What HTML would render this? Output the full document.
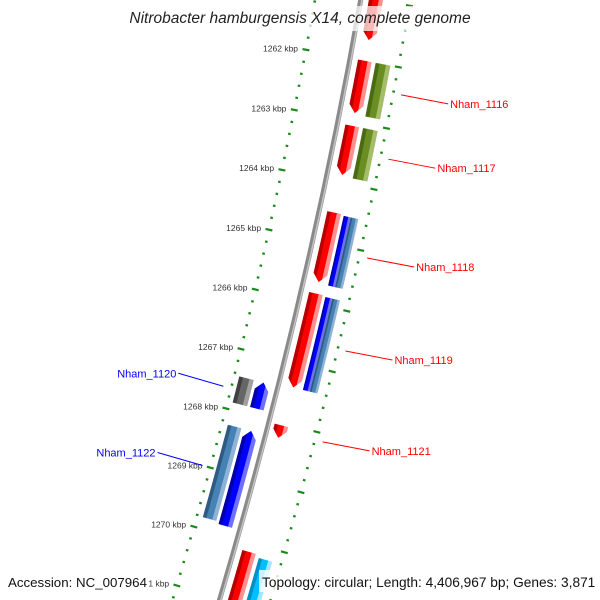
<!DOCTYPE html>
<html><head><meta charset="utf-8"><style>
html,body{margin:0;padding:0;background:#fff;width:600px;height:600px;overflow:hidden;}
svg{display:block;font-family:"Liberation Sans","DejaVu Sans",sans-serif;}
</style></head><body>
<svg id="chart" width="600" height="600" viewBox="0 0 600 600" xmlns="http://www.w3.org/2000/svg">
<defs id="defs"></defs>
<g id="scales"></g>
<path id="backbone" fill="none"/>
<g id="genes"></g>
<g id="labels"></g>
<rect x="122" y="6" width="356" height="25" fill="#fff" opacity="0.72"/>
<text x="300" y="23" text-anchor="middle" font-size="15.5" font-style="italic" fill="#222">Nitrobacter hamburgensis X14, complete genome</text>
<rect x="5" y="570" width="143" height="22" fill="#fff"/>
<text x="8" y="587" font-size="13.3" fill="#111">Accession: NC_007964</text>
<rect x="259" y="570" width="336" height="22" fill="#fff" opacity="0.8"/>
<text x="262" y="587" font-size="13.7" fill="#111">Topology: circular; Length: 4,406,967 bp; Genes: 3,871</text>
</svg>
<script>
// ---- data ----
const tickKbp = [1261,1262,1263,1264,1265,1266,1267,1268,1269,1270,1271,1272];
const geneStart = [1260.9,1262.0,1262.0,1263.07,1263.07,1264.5,1264.52,1264.52,1265.84,1265.86,1265.86,1268.04,1267.44,1267.44,1268.25,1268.25,1270.15,1270.2];
const geneEnd   = [1261.66,1262.86,1262.88,1263.88,1263.9,1265.65,1265.67,1265.67,1267.4,1267.4,1267.4,1268.25,1267.88,1267.88,1269.81,1269.85,1272.5,1272.5];
const geneInner = [8,8,26,8,26,8,25,32,8,25,32,6,-40,-22,-39,-22,8,26];
const geneOuter = [22,22,41,22,41,22,32,40,22,32,40,20,-25,-8,-25,-8,22,40];
const geneArrow = ["end","end","none","end","none","end","none","none","end","none","none","end","none","start","none","start","none","none"];
const geneColor = ["red","red","green","red","green","red","blue","steel","red","blue","steel","red","gray","blue","steel","blue","red","cyan"];
const labelNames = ["Nham_1116","Nham_1117","Nham_1118","Nham_1119","Nham_1121","Nham_1120","Nham_1122"];
const labelKbp   = [1262.43,1263.48,1265.1,1266.63,1268.13,1267.66,1269.0];
const labelSide  = ["right","right","right","right","right","left","left"];

// ---- geometry ----
const CX=-5026, CY=-951, R=5470, A0=10.63, DA=0.647;
function P(k,off){const a=(A0+DA*(k-1262))*Math.PI/180, r=R+off;return [CX+r*Math.cos(a), CY+r*Math.sin(a)];}
const NS="http://www.w3.org/2000/svg";
function mk(t,attrs,parent){const e=document.createElementNS(NS,t);for(const a in attrs)e.setAttribute(a,attrs[a]);parent.appendChild(e);return e;}

// backbone
(function(){
 const b=document.getElementById('backbone');
 const s=P(1260.2,0), e=P(1272.6,0);
 const d=`M${s[0]},${s[1]} A${R},${R} 0 0 1 ${e[0]},${e[1]}`;
 b.setAttribute('d',d);b.setAttribute('stroke','#8a8a8a');b.setAttribute('stroke-width','5');
 const hl=mk('path',{d:d,fill:'none',stroke:'#c4c4c4','stroke-width':'1.5',transform:'translate(1.2,0.3)'},document.getElementById('chart'));
 
 
 document.getElementById('chart').insertBefore(hl,document.getElementById('genes'));
})();

// scales
const sg=document.getElementById('scales');
function radialSeg(k,off,len,w,col){const p1=P(k,off-len/2),p2=P(k,off+len/2);
 return mk('line',{x1:p1[0],y1:p1[1],x2:p2[0],y2:p2[1],stroke:col,'stroke-width':w},sg);}
for(let i=0;i<=62;i++){const k=1260.4+i*0.2; if(Math.abs(k-Math.round(k))<0.01) continue;
 for(const off of [-45,49]){const d=radialSeg(k,off,2.6,2.2,'#1a8a1a');
  
  }}
tickKbp.forEach(k=>{
 for(const off of [-45,49]){const t=radialSeg(k,off,7,2.2,'#1a8a1a');
  
  }
 const p=P(k,-53);
 const tx=mk('text',{x:p[0],y:p[1]+3,'text-anchor':'end','font-size':'8.5',fill:'#333'},sg);
 
 
 tx.textContent=k+' kbp';
});

// genes
const pal={red:['#b80000','#ff0000','#ff9090'],green:['#4a6b14','#6b8e23','#a3bd6a'],blue:['#0000a8','#0000ff','#7070ff'],
 steel:['#2f5a82','#4682b4','#8fb3d6'],gray:['#404040','#666666','#a0a0a0'],cyan:['#0090c8','#00bfff','#a0e6ff']};
const gg=document.getElementById('genes'), defs=document.getElementById('defs');
geneStart.forEach((s,i)=>{
 const e=geneEnd[i], r1=geneInner[i], r2=geneOuter[i], rc=(r1+r2)/2, head=Math.min(0.13,(e-s)*0.6);
 const N=12; let pts=[];
 const arc=(k1,k2,off)=>{const a=[];for(let j=0;j<=N;j++)a.push(P(k1+(k2-k1)*j/N,off));return a;};
 let bs=s, be=e;
 if(geneArrow[i]==='end') be=e-head; if(geneArrow[i]==='start') bs=s+head;
 pts=pts.concat(arc(bs,be,r2));
 if(geneArrow[i]==='end') pts.push(P(e,rc));
 pts=pts.concat(arc(be,bs,r1));
 if(geneArrow[i]==='start') pts.push(P(s,rc));
 const poly=pts.map(p=>p[0].toFixed(2)+','+p[1].toFixed(2)).join(' ');
 const cid='gc'+i;
 const cp=mk('clipPath',{id:cid},defs); mk('polygon',{points:poly},cp);
 const g=mk('g',{'clip-path':`url(#${cid})`},gg);
 
 
 const c=pal[geneColor[i]], w=r2-r1;
 const bands=[[r1,r1+w*0.28,c[0]],[r1+w*0.28,r1+w*0.72,c[1]],[r1+w*0.72,r2,c[2]]];
 bands.forEach(b=>{const a=arc(s-0.05,e+0.05,b[0]-0.3).concat(arc(e+0.05,s-0.05,b[1]+0.3));
  mk('polygon',{points:a.map(p=>p[0].toFixed(2)+','+p[1].toFixed(2)).join(' '),fill:b[2]},g);});
});

// labels
const lg=document.getElementById('labels');
labelNames.forEach((n,i)=>{
 const k=labelKbp[i], right=labelSide[i]==='right';
 const p1=right?P(k,57):P(k,-53);
 const p2=right?[p1[0]+47,p1[1]+9]:[p1[0]-45,p1[1]-13];
 const ln=mk('line',{x1:p1[0],y1:p1[1],x2:p2[0],y2:p2[1],stroke:right?'#ff0000':'#0000ff','stroke-width':'1'},lg);
 
 
 const t=mk('text',{x:right?p2[0]+2:p2[0]-2,y:p2[1]+4,'text-anchor':right?'start':'end','font-size':'11',fill:right?'#ff0000':'#0000ff'},lg);
 
 
 t.textContent=n;
});
</script>
</body></html>
